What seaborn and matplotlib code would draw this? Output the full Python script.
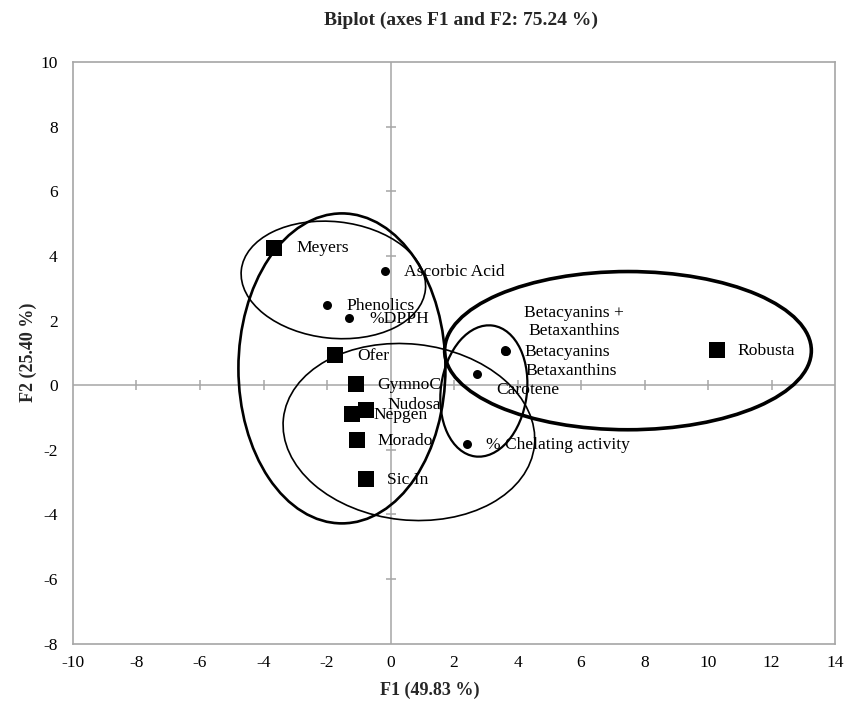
import matplotlib
matplotlib.use("Agg")
import matplotlib.pyplot as plt
from matplotlib.patches import Ellipse
import seaborn as sns
import pandas as pd

# ---------------- data ----------------
obs_names = ["Meyers", "Ofer", "GymnoC", "Nudosa", "Nepgen", "Morado", "Sic In", "Robusta"]
obs_f1 = [-3.66, -1.75, -1.08, -0.78, -1.22, -1.07, -0.78, 10.27]
obs_f2 = [4.26, 0.94, 0.03, -0.78, -0.88, -1.70, -2.91, 1.09]

var_names = ["Ascorbic Acid", "Phenolics", "%DPPH", "Betacyanins", "Betaxanthins",
             "Betacyanins +\nBetaxanthins", "Carotene", "% Chelating activity"]
var_f1 = [-0.16, -2.00, -1.30, 3.62, 3.63, 3.61, 2.72, 2.40]
var_f2 = [3.55, 2.47, 2.07, 1.07, 1.06, 1.08, 0.34, -1.83]

x_ticks = [-10, -8, -6, -4, -2, 0, 2, 4, 6, 8, 10, 12, 14]
y_ticks = [-8, -6, -4, -2, 0, 2, 4, 6, 8, 10]

title = "Biplot (axes F1 and F2: 75.24 %)"
x_label = "F1 (49.83 %)"
y_label = "F2 (25.40 %)"

# grouping ellipses (centre F1, centre F2, width, height, angle)
ell_f1 = [-1.80, -1.53, 0.58, 2.94, 7.48]
ell_f2 = [3.26, 0.52, -1.45, -0.18, 1.07]
ell_w = [5.83, 6.52, 7.95, 2.71, 11.55]
ell_h = [3.61, 9.60, 5.45, 4.09, 4.90]
ell_ang = [-6, 0, -6, -8, 0]
ell_lw = [1.2, 1.9, 1.2, 1.6, 2.6]

# label offsets in pixels (dx, dy)
obs_off = {"Meyers": (22, 0), "Ofer": (22, -1), "GymnoC": (21, -1), "Nudosa": (22, 5),
           "Nepgen": (22, -1), "Morado": (21, -1), "Sic In": (21, -1), "Robusta": (21, -1)}
var_off = {"Ascorbic Acid": (19, -1), "Phenolics": (19, -1), "%DPPH": (20, -1),
           "Betacyanins": (19, -1), "Betaxanthins": (20, -20),
           "Betacyanins +\nBetaxanthins": (69, 28), "Carotene": (19, -16),
           "% Chelating activity": (19, -1)}

# ---------------- style ----------------
sns.set_theme(style="white")
plt.rcParams["font.family"] = ["Liberation Serif", "DejaVu Serif"]
GRAY = "#A6A6A6"

fig = plt.figure(figsize=(8.58, 7.05), dpi=100)
W, H = 858, 705
ax = fig.add_axes([73 / W, 1 - 643.5 / H, (835 - 73) / W, (643.5 - 62.3) / H])

ax.set_xlim(-10, 14)
ax.set_ylim(-8, 10)

# zero axes with cross tick marks
ax.axhline(0, color=GRAY, lw=1.1, zorder=1)
ax.axvline(0, color=GRAY, lw=1.1, zorder=1)
ax.scatter(x_ticks[1:-1], [0] * (len(x_ticks) - 2), marker="|", s=60, color=GRAY,
           linewidths=1.1, zorder=1)
ax.scatter([0] * (len(y_ticks) - 2), y_ticks[1:-1], marker="_", s=60, color=GRAY,
           linewidths=1.1, zorder=1)

# ellipses
for cx, cy, w, h, a, lw in zip(ell_f1, ell_f2, ell_w, ell_h, ell_ang, ell_lw):
    ax.add_patch(Ellipse((cx, cy), w, h, angle=a, fill=False, edgecolor="black",
                         lw=lw, zorder=3))

obs_df = pd.DataFrame({"F1": obs_f1, "F2": obs_f2, "name": obs_names})
var_df = pd.DataFrame({"F1": var_f1, "F2": var_f2, "name": var_names})

sns.scatterplot(data=obs_df, x="F1", y="F2", marker="s", s=120, color="black",
                edgecolor="black", linewidth=0, ax=ax, zorder=4, legend=False)
sns.scatterplot(data=var_df, x="F1", y="F2", marker="o", s=42, color="black",
                edgecolor="black", linewidth=0, ax=ax, zorder=4, legend=False)

for n, x, y in zip(obs_names, obs_f1, obs_f2):
    dx, dy = obs_off[n]
    ax.annotate(n, (x, y), xytext=(dx, dy), textcoords="offset pixels",
                ha="left", va="center", fontsize=12.6, color="black", zorder=5)
for n, x, y in zip(var_names, var_f1, var_f2):
    dx, dy = var_off[n]
    ha = "center" if "\n" in n else "left"
    ax.annotate(n, (x, y), xytext=(dx, dy), textcoords="offset pixels",
                ha=ha, va="center", fontsize=12.6, color="black", zorder=5,
                multialignment="center", linespacing=1.15)

# frame and ticks
for sp in ax.spines.values():
    sp.set_visible(True)
    sp.set_color(GRAY)
    sp.set_linewidth(1.2)
ax.set_xticks(x_ticks)
ax.set_yticks(y_ticks)
ax.set_xticklabels([str(t) for t in x_ticks])
ax.set_yticklabels([str(t) for t in y_ticks])
ax.tick_params(axis="x", length=0, pad=8, labelsize=12.5, colors="black")
ax.tick_params(axis="y", length=0, pad=11, labelsize=12.5, colors="black")
ax.set_xlabel("")
ax.set_ylabel("")
ax.grid(False)

fig.text(461 / W, 1 - 20 / H, title, ha="center", va="center", fontsize=14,
         fontweight="bold")
fig.text(430 / W, 1 - 690 / H, x_label, ha="center", va="center", fontsize=13,
         fontweight="bold")
fig.text(28 / W, 1 - 352 / H, y_label, ha="center", va="center", fontsize=13,
         fontweight="bold", rotation=90)

fig.savefig("out.png", dpi=100)
